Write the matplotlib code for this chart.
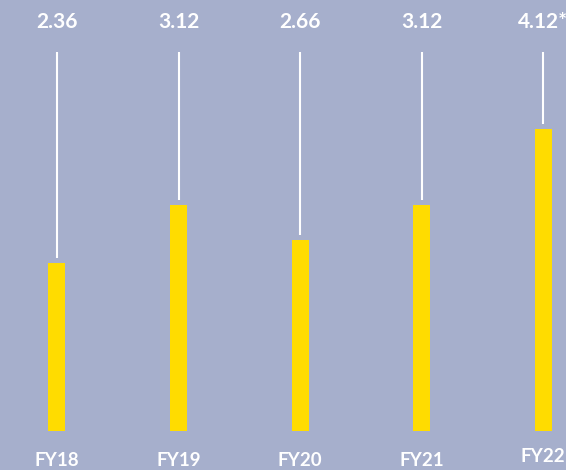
import matplotlib
matplotlib.use("Agg")
import matplotlib.pyplot as plt

# Fiscal-year values
years = ["FY18", "FY19", "FY20", "FY21", "FY22"]
values = [2.36, 3.12, 2.66, 3.12, 4.12]
value_labels = ["2.36", "3.12", "2.66", "3.12", "4.12*"]

BG = "#a6afcc"
BAR = "#ffdc00"
W, H, DPI = 566, 470, 100

plt.rcParams["font.family"] = ["Lato", "DejaVu Sans"]

fig = plt.figure(figsize=(W / DPI, H / DPI), dpi=DPI, facecolor=BG)
ax = fig.add_axes([0, 39 / H, 1, 1 - 39 / H])
ax.set_facecolor(BG)
for s in ax.spines.values():
    s.set_visible(False)
ax.set_xticks([])
ax.set_yticks([])

xs = list(range(len(years)))
ax.bar(xs, values, width=0.14, color=BAR, zorder=2)

ax.set_xlim(-0.469, 4.189)
ax.set_ylim(0.152, 5.816)

# leader lines from the value labels down to each bar
line_top = 5.13
gap = 0.066
ax.vlines(xs, [v + gap for v in values], line_top, color="white", lw=1.5, zorder=3)

for x, lab in zip(xs, value_labels):
    ax.annotate(lab, xy=(x, 1), xycoords=("data", "axes fraction"),
                xytext=(0, 0 - 22 * 72 / DPI), textcoords="offset points",
                ha="center", va="center", color="white", fontsize=15,
                fontweight="bold", annotation_clip=False)

for i, (x, yr) in enumerate(zip(xs, years)):
    dy = 26 if i == len(years) - 1 else 30
    ax.annotate(yr, xy=(x, 0), xycoords=("data", "axes fraction"),
                xytext=(0, -dy * 72 / DPI), textcoords="offset points",
                ha="center", va="center", color="white", fontsize=13.5,
                fontweight="bold", annotation_clip=False)

fig.savefig("out.png", dpi=DPI, facecolor=BG)
